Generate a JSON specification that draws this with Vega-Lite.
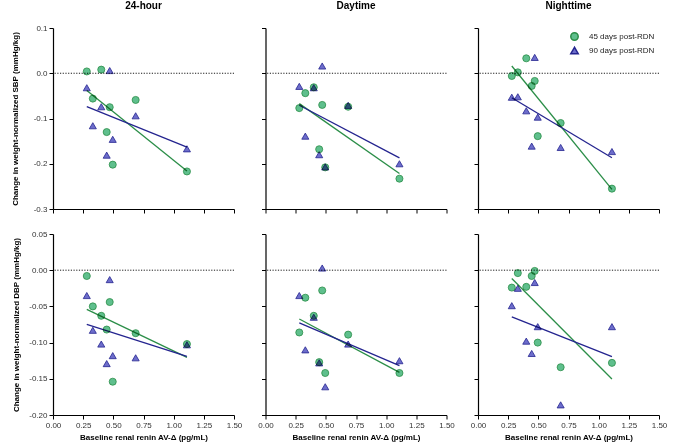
{
  "$schema": "https://vega.github.io/schema/vega-lite/v6.json",
  "padding": {"left": 11, "top": 1, "right": 5, "bottom": 2},
  "background": "white",
  "config": {
    "font": "Liberation Sans",
    "view": {"stroke": null},
    "axis": {"grid": false, "domainColor": "#000", "domainWidth": 1.2, "tickColor": "#000", "tickWidth": 1, "tickSize": 4, "labelFont": "Liberation Sans", "labelFontSize": 8, "labelColor": "#333", "labelPadding": 2, "labelOverlap": false, "labelBound": false, "labelFlush": false, "titleFont": "Liberation Sans", "titleFontSize": 8, "titleFontWeight": "bold", "titleColor": "#000"},
    "title": {"font": "Liberation Sans", "fontSize": 10, "fontWeight": "bold", "color": "#000"},
    "legend": {"labelFont": "Liberation Sans"}
  },
  "data": {"values": [
    {"m":"SBP","p":"24-hour","g":"45 days post-RDN","x":0.28,"y":0.004},
    {"m":"SBP","p":"24-hour","g":"45 days post-RDN","x":0.40,"y":0.008},
    {"m":"SBP","p":"24-hour","g":"45 days post-RDN","x":0.33,"y":-0.056},
    {"m":"SBP","p":"24-hour","g":"45 days post-RDN","x":0.47,"y":-0.075},
    {"m":"SBP","p":"24-hour","g":"45 days post-RDN","x":0.685,"y":-0.059},
    {"m":"SBP","p":"24-hour","g":"45 days post-RDN","x":0.445,"y":-0.130},
    {"m":"SBP","p":"24-hour","g":"45 days post-RDN","x":0.495,"y":-0.202},
    {"m":"SBP","p":"24-hour","g":"45 days post-RDN","x":1.11,"y":-0.217},
    {"m":"SBP","p":"24-hour","g":"90 days post-RDN","x":0.47,"y":0.006},
    {"m":"SBP","p":"24-hour","g":"90 days post-RDN","x":0.28,"y":-0.032},
    {"m":"SBP","p":"24-hour","g":"90 days post-RDN","x":0.40,"y":-0.074},
    {"m":"SBP","p":"24-hour","g":"90 days post-RDN","x":0.33,"y":-0.116},
    {"m":"SBP","p":"24-hour","g":"90 days post-RDN","x":0.495,"y":-0.146},
    {"m":"SBP","p":"24-hour","g":"90 days post-RDN","x":0.685,"y":-0.094},
    {"m":"SBP","p":"24-hour","g":"90 days post-RDN","x":0.445,"y":-0.181},
    {"m":"SBP","p":"24-hour","g":"90 days post-RDN","x":1.11,"y":-0.167},
    {"m":"SBP","p":"Daytime","g":"45 days post-RDN","x":0.28,"y":-0.077},
    {"m":"SBP","p":"Daytime","g":"45 days post-RDN","x":0.33,"y":-0.044},
    {"m":"SBP","p":"Daytime","g":"45 days post-RDN","x":0.40,"y":-0.031},
    {"m":"SBP","p":"Daytime","g":"45 days post-RDN","x":0.47,"y":-0.070},
    {"m":"SBP","p":"Daytime","g":"45 days post-RDN","x":0.445,"y":-0.168},
    {"m":"SBP","p":"Daytime","g":"45 days post-RDN","x":0.495,"y":-0.208},
    {"m":"SBP","p":"Daytime","g":"45 days post-RDN","x":0.685,"y":-0.074},
    {"m":"SBP","p":"Daytime","g":"45 days post-RDN","x":1.11,"y":-0.233},
    {"m":"SBP","p":"Daytime","g":"90 days post-RDN","x":0.28,"y":-0.029},
    {"m":"SBP","p":"Daytime","g":"90 days post-RDN","x":0.33,"y":-0.139},
    {"m":"SBP","p":"Daytime","g":"90 days post-RDN","x":0.40,"y":-0.032},
    {"m":"SBP","p":"Daytime","g":"90 days post-RDN","x":0.47,"y":0.016},
    {"m":"SBP","p":"Daytime","g":"90 days post-RDN","x":0.445,"y":-0.180},
    {"m":"SBP","p":"Daytime","g":"90 days post-RDN","x":0.495,"y":-0.207},
    {"m":"SBP","p":"Daytime","g":"90 days post-RDN","x":0.685,"y":-0.071},
    {"m":"SBP","p":"Daytime","g":"90 days post-RDN","x":1.11,"y":-0.200},
    {"m":"SBP","p":"Nighttime","g":"45 days post-RDN","x":0.28,"y":-0.006},
    {"m":"SBP","p":"Nighttime","g":"45 days post-RDN","x":0.33,"y":0.002},
    {"m":"SBP","p":"Nighttime","g":"45 days post-RDN","x":0.40,"y":0.033},
    {"m":"SBP","p":"Nighttime","g":"45 days post-RDN","x":0.445,"y":-0.028},
    {"m":"SBP","p":"Nighttime","g":"45 days post-RDN","x":0.47,"y":-0.017},
    {"m":"SBP","p":"Nighttime","g":"45 days post-RDN","x":0.495,"y":-0.139},
    {"m":"SBP","p":"Nighttime","g":"45 days post-RDN","x":0.685,"y":-0.110},
    {"m":"SBP","p":"Nighttime","g":"45 days post-RDN","x":1.11,"y":-0.255},
    {"m":"SBP","p":"Nighttime","g":"90 days post-RDN","x":0.28,"y":-0.053},
    {"m":"SBP","p":"Nighttime","g":"90 days post-RDN","x":0.33,"y":-0.052},
    {"m":"SBP","p":"Nighttime","g":"90 days post-RDN","x":0.40,"y":-0.083},
    {"m":"SBP","p":"Nighttime","g":"90 days post-RDN","x":0.47,"y":0.035},
    {"m":"SBP","p":"Nighttime","g":"90 days post-RDN","x":0.495,"y":-0.097},
    {"m":"SBP","p":"Nighttime","g":"90 days post-RDN","x":0.445,"y":-0.161},
    {"m":"SBP","p":"Nighttime","g":"90 days post-RDN","x":0.685,"y":-0.164},
    {"m":"SBP","p":"Nighttime","g":"90 days post-RDN","x":1.11,"y":-0.173},
    {"m":"DBP","p":"24-hour","g":"45 days post-RDN","x":0.28,"y":-0.008},
    {"m":"DBP","p":"24-hour","g":"45 days post-RDN","x":0.33,"y":-0.050},
    {"m":"DBP","p":"24-hour","g":"45 days post-RDN","x":0.47,"y":-0.044},
    {"m":"DBP","p":"24-hour","g":"45 days post-RDN","x":0.40,"y":-0.063},
    {"m":"DBP","p":"24-hour","g":"45 days post-RDN","x":0.445,"y":-0.082},
    {"m":"DBP","p":"24-hour","g":"45 days post-RDN","x":0.685,"y":-0.087},
    {"m":"DBP","p":"24-hour","g":"45 days post-RDN","x":1.11,"y":-0.102},
    {"m":"DBP","p":"24-hour","g":"45 days post-RDN","x":0.495,"y":-0.154},
    {"m":"DBP","p":"24-hour","g":"90 days post-RDN","x":0.47,"y":-0.013},
    {"m":"DBP","p":"24-hour","g":"90 days post-RDN","x":0.28,"y":-0.035},
    {"m":"DBP","p":"24-hour","g":"90 days post-RDN","x":0.33,"y":-0.083},
    {"m":"DBP","p":"24-hour","g":"90 days post-RDN","x":0.40,"y":-0.102},
    {"m":"DBP","p":"24-hour","g":"90 days post-RDN","x":0.495,"y":-0.118},
    {"m":"DBP","p":"24-hour","g":"90 days post-RDN","x":0.685,"y":-0.121},
    {"m":"DBP","p":"24-hour","g":"90 days post-RDN","x":0.445,"y":-0.129},
    {"m":"DBP","p":"24-hour","g":"90 days post-RDN","x":1.11,"y":-0.103},
    {"m":"DBP","p":"Daytime","g":"45 days post-RDN","x":0.28,"y":-0.086},
    {"m":"DBP","p":"Daytime","g":"45 days post-RDN","x":0.33,"y":-0.038},
    {"m":"DBP","p":"Daytime","g":"45 days post-RDN","x":0.40,"y":-0.063},
    {"m":"DBP","p":"Daytime","g":"45 days post-RDN","x":0.47,"y":-0.028},
    {"m":"DBP","p":"Daytime","g":"45 days post-RDN","x":0.445,"y":-0.127},
    {"m":"DBP","p":"Daytime","g":"45 days post-RDN","x":0.495,"y":-0.142},
    {"m":"DBP","p":"Daytime","g":"45 days post-RDN","x":0.685,"y":-0.089},
    {"m":"DBP","p":"Daytime","g":"45 days post-RDN","x":1.11,"y":-0.142},
    {"m":"DBP","p":"Daytime","g":"90 days post-RDN","x":0.28,"y":-0.035},
    {"m":"DBP","p":"Daytime","g":"90 days post-RDN","x":0.33,"y":-0.110},
    {"m":"DBP","p":"Daytime","g":"90 days post-RDN","x":0.40,"y":-0.065},
    {"m":"DBP","p":"Daytime","g":"90 days post-RDN","x":0.47,"y":0.003},
    {"m":"DBP","p":"Daytime","g":"90 days post-RDN","x":0.445,"y":-0.128},
    {"m":"DBP","p":"Daytime","g":"90 days post-RDN","x":0.495,"y":-0.161},
    {"m":"DBP","p":"Daytime","g":"90 days post-RDN","x":0.685,"y":-0.102},
    {"m":"DBP","p":"Daytime","g":"90 days post-RDN","x":1.11,"y":-0.125},
    {"m":"DBP","p":"Nighttime","g":"45 days post-RDN","x":0.28,"y":-0.024},
    {"m":"DBP","p":"Nighttime","g":"45 days post-RDN","x":0.33,"y":-0.004},
    {"m":"DBP","p":"Nighttime","g":"45 days post-RDN","x":0.40,"y":-0.023},
    {"m":"DBP","p":"Nighttime","g":"45 days post-RDN","x":0.445,"y":-0.008},
    {"m":"DBP","p":"Nighttime","g":"45 days post-RDN","x":0.47,"y":-0.001},
    {"m":"DBP","p":"Nighttime","g":"45 days post-RDN","x":0.495,"y":-0.100},
    {"m":"DBP","p":"Nighttime","g":"45 days post-RDN","x":0.685,"y":-0.134},
    {"m":"DBP","p":"Nighttime","g":"45 days post-RDN","x":1.11,"y":-0.128},
    {"m":"DBP","p":"Nighttime","g":"90 days post-RDN","x":0.28,"y":-0.049},
    {"m":"DBP","p":"Nighttime","g":"90 days post-RDN","x":0.33,"y":-0.025},
    {"m":"DBP","p":"Nighttime","g":"90 days post-RDN","x":0.47,"y":-0.017},
    {"m":"DBP","p":"Nighttime","g":"90 days post-RDN","x":0.495,"y":-0.078},
    {"m":"DBP","p":"Nighttime","g":"90 days post-RDN","x":0.40,"y":-0.098},
    {"m":"DBP","p":"Nighttime","g":"90 days post-RDN","x":0.445,"y":-0.115},
    {"m":"DBP","p":"Nighttime","g":"90 days post-RDN","x":0.685,"y":-0.186},
    {"m":"DBP","p":"Nighttime","g":"90 days post-RDN","x":1.11,"y":-0.078}
  ]},
  "columns": 3,
  "bounds": "flush",
  "spacing": {"row": 25, "column": 31.5},
  "resolve": {"scale": {"y": "independent", "x": "independent", "shape": "independent", "fill": "independent", "stroke": "independent"}, "legend": {"shape": "independent", "fill": "independent", "stroke": "independent"}},
  "concat": [
    {
      "width": 181, "height": 181, "title": {"text": "24-hour", "offset": 13},
      "transform": [{"filter": "datum.m=='SBP' && datum.p=='24-hour'"}],
      "layer": [
        {"data": {"values": [{}]}, "mark": {"type": "rule", "strokeDash": [1.2, 1.5], "color": "#000", "strokeWidth": 0.9}, "encoding": {"y": {"datum": 0, "type": "quantitative", "scale": {"domain": [-0.3, 0.1], "nice": false}, "axis": {"title": "Change in weight-normalized SBP (mmHg/kg)", "titlePadding": 14, "values": [0.1, 0, -0.1, -0.2, -0.3], "labelExpr": "replace(format(datum.value, '.1f'), '−', '-')"}}}},
        {"transform": [{"regression": "y", "on": "x", "groupby": ["g"]}], "mark": {"type": "line", "strokeWidth": 1.3}, "encoding": {
          "x": {"field": "x", "type": "quantitative", "scale": {"domain": [0, 1.5], "nice": false}, "axis": {"title": null, "labels": false, "values": [0, 0.25, 0.5, 0.75, 1, 1.25, 1.5]}},
          "y": {"field": "y", "type": "quantitative", "scale": {"domain": [-0.3, 0.1], "nice": false}, "axis": {"title": "Change in weight-normalized SBP (mmHg/kg)", "titlePadding": 14, "values": [0.1, 0, -0.1, -0.2, -0.3], "labelExpr": "replace(format(datum.value, '.1f'), '−', '-')"}},
          "stroke": {"field": "g", "type": "nominal", "scale": {"domain": ["45 days post-RDN", "90 days post-RDN"], "range": ["#2B8E48", "#24248F"]}, "legend": null}}},
        {"mark": {"type": "point", "filled": true, "size": 50, "strokeWidth": 0.8, "opacity": 1, "blend": "multiply"}, "encoding": {
          "x": {"field": "x", "type": "quantitative", "scale": {"domain": [0, 1.5], "nice": false}, "axis": {"title": null, "labels": false, "values": [0, 0.25, 0.5, 0.75, 1, 1.25, 1.5]}},
          "y": {"field": "y", "type": "quantitative", "scale": {"domain": [-0.3, 0.1], "nice": false}, "axis": {"title": "Change in weight-normalized SBP (mmHg/kg)", "titlePadding": 14, "values": [0.1, 0, -0.1, -0.2, -0.3], "labelExpr": "replace(format(datum.value, '.1f'), '−', '-')"}},
          "shape": {"field": "g", "type": "nominal", "scale": {"domain": ["45 days post-RDN", "90 days post-RDN"], "range": ["circle", "triangle-up"]}, "legend": null},
          "fill": {"field": "g", "type": "nominal", "scale": {"domain": ["45 days post-RDN", "90 days post-RDN"], "range": ["#5FBF8D", "#6D6DCB"]}, "legend": null},
          "stroke": {"field": "g", "type": "nominal", "legend": null}}}
      ]
    },
    {
      "width": 181, "height": 181, "title": {"text": "Daytime", "offset": 16.5},
      "transform": [{"filter": "datum.m=='SBP' && datum.p=='Daytime'"}],
      "layer": [
        {"data": {"values": [{}]}, "mark": {"type": "rule", "strokeDash": [1.2, 1.5], "color": "#000", "strokeWidth": 0.9}, "encoding": {"y": {"datum": 0, "type": "quantitative", "scale": {"domain": [-0.3, 0.1], "nice": false}, "axis": {"title": null, "labels": false, "values": [0.1, 0, -0.1, -0.2, -0.3]}}}},
        {"transform": [{"regression": "y", "on": "x", "groupby": ["g"]}], "mark": {"type": "line", "strokeWidth": 1.3}, "encoding": {
          "x": {"field": "x", "type": "quantitative", "scale": {"domain": [0, 1.5], "nice": false}, "axis": {"title": null, "labels": false, "values": [0, 0.25, 0.5, 0.75, 1, 1.25, 1.5]}},
          "y": {"field": "y", "type": "quantitative", "scale": {"domain": [-0.3, 0.1], "nice": false}, "axis": {"title": null, "labels": false, "values": [0.1, 0, -0.1, -0.2, -0.3]}},
          "stroke": {"field": "g", "type": "nominal", "scale": {"domain": ["45 days post-RDN", "90 days post-RDN"], "range": ["#2B8E48", "#24248F"]}, "legend": null}}},
        {"mark": {"type": "point", "filled": true, "size": 50, "strokeWidth": 0.8, "opacity": 1, "blend": "multiply"}, "encoding": {
          "x": {"field": "x", "type": "quantitative", "scale": {"domain": [0, 1.5], "nice": false}, "axis": {"title": null, "labels": false, "values": [0, 0.25, 0.5, 0.75, 1, 1.25, 1.5]}},
          "y": {"field": "y", "type": "quantitative", "scale": {"domain": [-0.3, 0.1], "nice": false}, "axis": {"title": null, "labels": false, "values": [0.1, 0, -0.1, -0.2, -0.3]}},
          "shape": {"field": "g", "type": "nominal", "scale": {"domain": ["45 days post-RDN", "90 days post-RDN"], "range": ["circle", "triangle-up"]}, "legend": null},
          "fill": {"field": "g", "type": "nominal", "scale": {"domain": ["45 days post-RDN", "90 days post-RDN"], "range": ["#5FBF8D", "#6D6DCB"]}, "legend": null},
          "stroke": {"field": "g", "type": "nominal", "legend": null}}}
      ]
    },
    {
      "width": 181, "height": 181, "title": {"text": "Nighttime", "offset": 16.5},
      "transform": [{"filter": "datum.m=='SBP' && datum.p=='Nighttime'"}],
      "layer": [
        {"data": {"values": [{}]}, "mark": {"type": "rule", "strokeDash": [1.2, 1.5], "color": "#000", "strokeWidth": 0.9}, "encoding": {"y": {"datum": 0, "type": "quantitative", "scale": {"domain": [-0.3, 0.1], "nice": false}, "axis": {"title": null, "labels": false, "values": [0.1, 0, -0.1, -0.2, -0.3]}}}},
        {"transform": [{"regression": "y", "on": "x", "groupby": ["g"]}], "mark": {"type": "line", "strokeWidth": 1.3}, "encoding": {
          "x": {"field": "x", "type": "quantitative", "scale": {"domain": [0, 1.5], "nice": false}, "axis": {"title": null, "labels": false, "values": [0, 0.25, 0.5, 0.75, 1, 1.25, 1.5]}},
          "y": {"field": "y", "type": "quantitative", "scale": {"domain": [-0.3, 0.1], "nice": false}, "axis": {"title": null, "labels": false, "values": [0.1, 0, -0.1, -0.2, -0.3]}},
          "stroke": {"field": "g", "type": "nominal", "scale": {"domain": ["45 days post-RDN", "90 days post-RDN"], "range": ["#2B8E48", "#24248F"]}}}},
        {"mark": {"type": "point", "filled": true, "size": 50, "strokeWidth": 0.8, "opacity": 1, "blend": "multiply"}, "encoding": {
          "x": {"field": "x", "type": "quantitative", "scale": {"domain": [0, 1.5], "nice": false}, "axis": {"title": null, "labels": false, "values": [0, 0.25, 0.5, 0.75, 1, 1.25, 1.5]}},
          "y": {"field": "y", "type": "quantitative", "scale": {"domain": [-0.3, 0.1], "nice": false}, "axis": {"title": null, "labels": false, "values": [0.1, 0, -0.1, -0.2, -0.3]}},
          "shape": {"field": "g", "type": "nominal", "scale": {"domain": ["45 days post-RDN", "90 days post-RDN"], "range": ["circle", "triangle-up"]}, "legend": {"orient": "top-right", "title": null, "offset": 4, "labelFontSize": 8, "labelColor": "#222", "symbolSize": 55, "rowPadding": 0, "labelOffset": 10}},
          "fill": {"field": "g", "type": "nominal", "scale": {"domain": ["45 days post-RDN", "90 days post-RDN"], "range": ["#5FBF8D", "#6D6DCB"]}},
          "stroke": {"field": "g", "type": "nominal"}}}
      ]
    },
    {
      "width": 181, "height": 181,
      "transform": [{"filter": "datum.m=='DBP' && datum.p=='24-hour'"}],
      "layer": [
        {"data": {"values": [{}]}, "mark": {"type": "rule", "strokeDash": [1.2, 1.5], "color": "#000", "strokeWidth": 0.9}, "encoding": {"y": {"datum": 0, "type": "quantitative", "scale": {"domain": [-0.2, 0.05], "nice": false}, "axis": {"title": "Change in weight-normalized DBP (mmHg/kg)", "titlePadding": 8, "values": [0.05, 0, -0.05, -0.1, -0.15, -0.2], "labelExpr": "replace(format(datum.value, '.2f'), '−', '-')"}}}},
        {"transform": [{"regression": "y", "on": "x", "groupby": ["g"]}], "mark": {"type": "line", "strokeWidth": 1.3}, "encoding": {
          "x": {"field": "x", "type": "quantitative", "scale": {"domain": [0, 1.5], "nice": false}, "axis": {"title": "Baseline renal renin AV-Δ (pg/mL)", "format": ".2f", "values": [0, 0.25, 0.5, 0.75, 1, 1.25, 1.5]}},
          "y": {"field": "y", "type": "quantitative", "scale": {"domain": [-0.2, 0.05], "nice": false}, "axis": {"title": "Change in weight-normalized DBP (mmHg/kg)", "titlePadding": 8, "values": [0.05, 0, -0.05, -0.1, -0.15, -0.2], "labelExpr": "replace(format(datum.value, '.2f'), '−', '-')"}},
          "stroke": {"field": "g", "type": "nominal", "scale": {"domain": ["45 days post-RDN", "90 days post-RDN"], "range": ["#2B8E48", "#24248F"]}, "legend": null}}},
        {"mark": {"type": "point", "filled": true, "size": 50, "strokeWidth": 0.8, "opacity": 1, "blend": "multiply"}, "encoding": {
          "x": {"field": "x", "type": "quantitative", "scale": {"domain": [0, 1.5], "nice": false}, "axis": {"title": "Baseline renal renin AV-Δ (pg/mL)", "format": ".2f", "values": [0, 0.25, 0.5, 0.75, 1, 1.25, 1.5]}},
          "y": {"field": "y", "type": "quantitative", "scale": {"domain": [-0.2, 0.05], "nice": false}, "axis": {"title": "Change in weight-normalized DBP (mmHg/kg)", "titlePadding": 8, "values": [0.05, 0, -0.05, -0.1, -0.15, -0.2], "labelExpr": "replace(format(datum.value, '.2f'), '−', '-')"}},
          "shape": {"field": "g", "type": "nominal", "scale": {"domain": ["45 days post-RDN", "90 days post-RDN"], "range": ["circle", "triangle-up"]}, "legend": null},
          "fill": {"field": "g", "type": "nominal", "scale": {"domain": ["45 days post-RDN", "90 days post-RDN"], "range": ["#5FBF8D", "#6D6DCB"]}, "legend": null},
          "stroke": {"field": "g", "type": "nominal", "legend": null}}}
      ]
    },
    {
      "width": 181, "height": 181,
      "transform": [{"filter": "datum.m=='DBP' && datum.p=='Daytime'"}],
      "layer": [
        {"data": {"values": [{}]}, "mark": {"type": "rule", "strokeDash": [1.2, 1.5], "color": "#000", "strokeWidth": 0.9}, "encoding": {"y": {"datum": 0, "type": "quantitative", "scale": {"domain": [-0.2, 0.05], "nice": false}, "axis": {"title": null, "labels": false, "values": [0.05, 0, -0.05, -0.1, -0.15, -0.2]}}}},
        {"transform": [{"regression": "y", "on": "x", "groupby": ["g"]}], "mark": {"type": "line", "strokeWidth": 1.3}, "encoding": {
          "x": {"field": "x", "type": "quantitative", "scale": {"domain": [0, 1.5], "nice": false}, "axis": {"title": "Baseline renal renin AV-Δ (pg/mL)", "format": ".2f", "values": [0, 0.25, 0.5, 0.75, 1, 1.25, 1.5]}},
          "y": {"field": "y", "type": "quantitative", "scale": {"domain": [-0.2, 0.05], "nice": false}, "axis": {"title": null, "labels": false, "values": [0.05, 0, -0.05, -0.1, -0.15, -0.2]}},
          "stroke": {"field": "g", "type": "nominal", "scale": {"domain": ["45 days post-RDN", "90 days post-RDN"], "range": ["#2B8E48", "#24248F"]}, "legend": null}}},
        {"mark": {"type": "point", "filled": true, "size": 50, "strokeWidth": 0.8, "opacity": 1, "blend": "multiply"}, "encoding": {
          "x": {"field": "x", "type": "quantitative", "scale": {"domain": [0, 1.5], "nice": false}, "axis": {"title": "Baseline renal renin AV-Δ (pg/mL)", "format": ".2f", "values": [0, 0.25, 0.5, 0.75, 1, 1.25, 1.5]}},
          "y": {"field": "y", "type": "quantitative", "scale": {"domain": [-0.2, 0.05], "nice": false}, "axis": {"title": null, "labels": false, "values": [0.05, 0, -0.05, -0.1, -0.15, -0.2]}},
          "shape": {"field": "g", "type": "nominal", "scale": {"domain": ["45 days post-RDN", "90 days post-RDN"], "range": ["circle", "triangle-up"]}, "legend": null},
          "fill": {"field": "g", "type": "nominal", "scale": {"domain": ["45 days post-RDN", "90 days post-RDN"], "range": ["#5FBF8D", "#6D6DCB"]}, "legend": null},
          "stroke": {"field": "g", "type": "nominal", "legend": null}}}
      ]
    },
    {
      "width": 181, "height": 181,
      "transform": [{"filter": "datum.m=='DBP' && datum.p=='Nighttime'"}],
      "layer": [
        {"data": {"values": [{}]}, "mark": {"type": "rule", "strokeDash": [1.2, 1.5], "color": "#000", "strokeWidth": 0.9}, "encoding": {"y": {"datum": 0, "type": "quantitative", "scale": {"domain": [-0.2, 0.05], "nice": false}, "axis": {"title": null, "labels": false, "values": [0.05, 0, -0.05, -0.1, -0.15, -0.2]}}}},
        {"transform": [{"regression": "y", "on": "x", "groupby": ["g"]}], "mark": {"type": "line", "strokeWidth": 1.3}, "encoding": {
          "x": {"field": "x", "type": "quantitative", "scale": {"domain": [0, 1.5], "nice": false}, "axis": {"title": "Baseline renal renin AV-Δ (pg/mL)", "format": ".2f", "values": [0, 0.25, 0.5, 0.75, 1, 1.25, 1.5]}},
          "y": {"field": "y", "type": "quantitative", "scale": {"domain": [-0.2, 0.05], "nice": false}, "axis": {"title": null, "labels": false, "values": [0.05, 0, -0.05, -0.1, -0.15, -0.2]}},
          "stroke": {"field": "g", "type": "nominal", "scale": {"domain": ["45 days post-RDN", "90 days post-RDN"], "range": ["#2B8E48", "#24248F"]}, "legend": null}}},
        {"mark": {"type": "point", "filled": true, "size": 50, "strokeWidth": 0.8, "opacity": 1, "blend": "multiply"}, "encoding": {
          "x": {"field": "x", "type": "quantitative", "scale": {"domain": [0, 1.5], "nice": false}, "axis": {"title": "Baseline renal renin AV-Δ (pg/mL)", "format": ".2f", "values": [0, 0.25, 0.5, 0.75, 1, 1.25, 1.5]}},
          "y": {"field": "y", "type": "quantitative", "scale": {"domain": [-0.2, 0.05], "nice": false}, "axis": {"title": null, "labels": false, "values": [0.05, 0, -0.05, -0.1, -0.15, -0.2]}},
          "shape": {"field": "g", "type": "nominal", "scale": {"domain": ["45 days post-RDN", "90 days post-RDN"], "range": ["circle", "triangle-up"]}, "legend": null},
          "fill": {"field": "g", "type": "nominal", "scale": {"domain": ["45 days post-RDN", "90 days post-RDN"], "range": ["#5FBF8D", "#6D6DCB"]}, "legend": null},
          "stroke": {"field": "g", "type": "nominal", "legend": null}}}
      ]
    }
  ]
}
